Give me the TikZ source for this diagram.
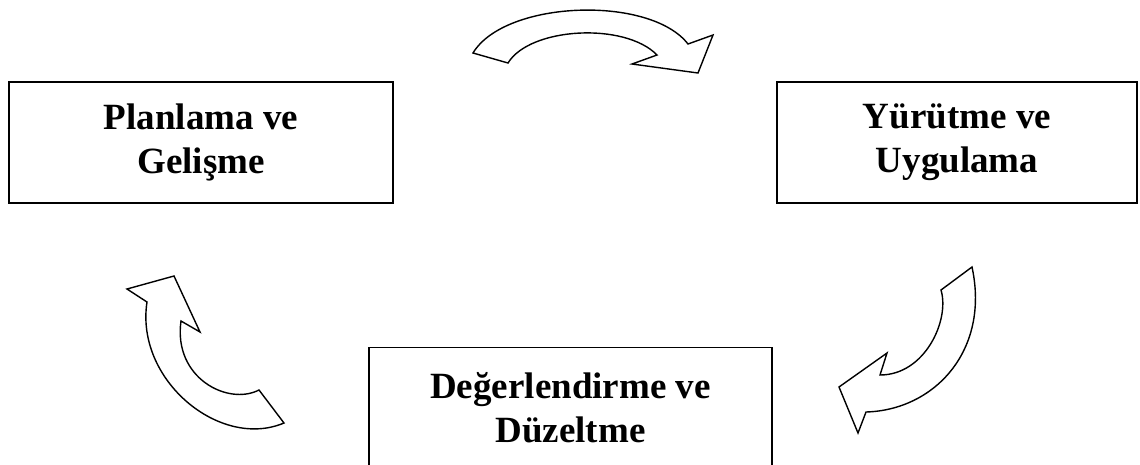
\documentclass[tikz,border=0pt]{standalone}
\usepackage{fontspec}
\setmainfont{Liberation Serif}
\begin{document}
\begin{tikzpicture}[x=1pt,y=-1pt,
  stagebox/.style={draw=black,line width=1.6pt,fill=white,inner sep=0pt,align=center,
    font=\fontsize{37}{44}\selectfont\bfseries,minimum height=121pt},
  bentarrow/.style={draw=black,line width=1.4pt,fill=white,line join=miter}]
\useasboundingbox (0,0) rectangle (1140,464);
\node[stagebox,minimum width=384pt] (plan) at (201,142.5) {Planlama ve\\Gelişme};
\node[stagebox,minimum width=360pt] (yur) at (957,142.5) {Yürütme ve\\Uygulama};
\node[stagebox,minimum width=403pt] (deg) at (570.5,408) {Değerlendirme ve\\Düzeltme};
% top arrow
\draw[bentarrow] (473,53) -- (508,63) .. controls (530,27) and (625,22) .. (657,55)
  -- (632,64) -- (698,73) -- (713,35) -- (688,44)
  .. controls (650,-5) and (505,0) .. cycle;
% right arrow
\draw[bentarrow] (972,267) -- (941,290) .. controls (950,320) and (925,375) .. (880,375)
  -- (887,353) -- (839,387) -- (858,433) -- (866,412)
  .. controls (935,410) and (990,350) .. cycle;
% left arrow
\draw[bentarrow] (284,423) -- (259,390) .. controls (228,406) and (173,378) .. (181,321)
  -- (200,332) -- (174,276) -- (127,289) -- (147,302)
  .. controls (135,380) and (220,450) .. cycle;
\end{tikzpicture}
\end{document}
